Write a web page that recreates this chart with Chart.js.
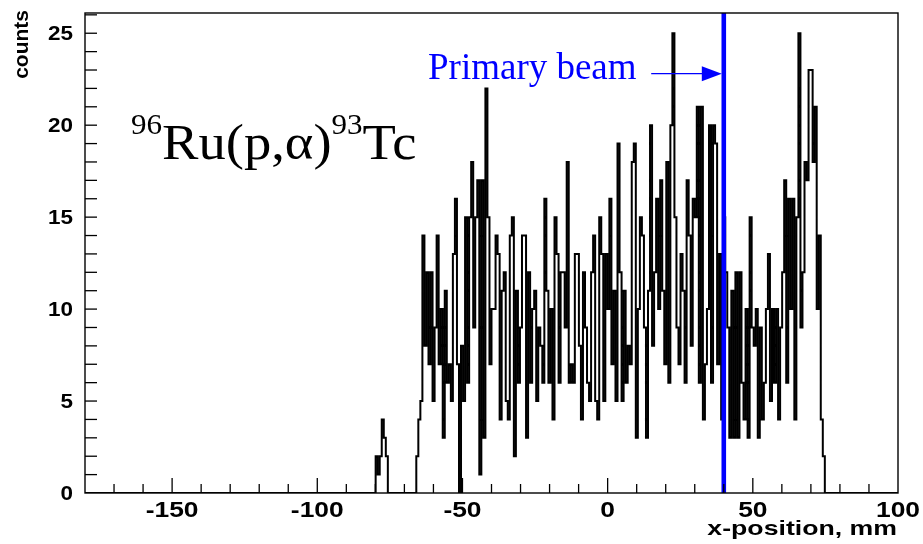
<!DOCTYPE html>
<html lang="en">
<head>
<meta charset="UTF-8" />
<title>x-position histogram</title>
<script src="https://cdn.jsdelivr.net/npm/chart.js@4.4.0/dist/chart.umd.min.js"></script>
<style>
  body { margin: 0; background: #fff; }
  #wrap { width: 923px; height: 544px; }
</style>
</head>
<body>
<div id="wrap"><canvas id="chart"></canvas></div>
<script>
// histogram binning: 400 bins of 0.7 mm over the axis range
const xMin = -180, xMax = 100;
const yMax = 26.1;
const binWidth = 0.7;
const nBins = 400;

// counts, each block starts at the given bin number
const clusterStart = 143;
const clusterCounts = [2, 1, 2, 4, 3, 2];

const leftStart = 163;
const leftCounts = [2, 4, 5, 14, 8, 12, 7, 12, 5, 9, 14, 7, 10, 3, 11, 6, 7, 5, 13, 16, 7,
  0, 8, 5, 15, 6, 15, 18, 9, 15, 17, 1, 17, 3, 22, 15, 7, 10];

const midStart = 201;
const midCounts = [10, 14, 13, 4, 11, 12, 5, 4, 14, 15, 2, 11, 6, 9, 14, 14, 3, 12, 6, 10,
  11, 5, 9, 8, 6, 16, 11, 6, 10, 4, 15, 13, 6, 12, 12, 9, 18, 6, 7, 6, 13, 13,
  8, 4, 12, 9, 6, 5, 12, 14, 5, 4, 15, 13, 5, 13, 10, 16, 7, 11, 5, 19, 12, 5, 11, 6,
  8, 7, 18, 19, 3, 10, 15, 14, 9, 3, 11, 20, 8, 12, 16, 10, 17];

const rightStart = 284;
const rightCounts = [11, 7, 18, 6, 20, 25, 15, 9, 7, 13, 11, 6, 17, 14, 8, 16, 15, 21, 6, 21,
  4, 7, 10, 20, 6, 20, 19, 7, 13, 4, 15, 12, 9, 3, 11, 3, 12, 3, 12, 6, 4,
  10, 3, 15, 9, 8, 10, 3, 9, 4, 6, 10, 13, 5, 10, 6, 10, 4, 9, 12, 17, 6, 16, 10, 16,
  4, 15, 25, 9, 12, 18, 17, 23, 23, 18, 21, 10, 14, 4, 2];

const xMajorTicks = [-150, -100, -50, 0, 50, 100];
const yMajorTicks = [0, 5, 10, 15, 20, 25];
const beamX = 40;        // primary beam position, mm
const arrowFrom = 15;    // arrow start, mm
const arrowY = 22.8;     // arrow height, counts

function histPoints() {
  const counts = new Array(nBins).fill(0);
  const put = (start, arr) => arr.forEach((c, k) => { counts[start + k] = c; });
  put(clusterStart, clusterCounts);
  put(leftStart, leftCounts);
  put(midStart, midCounts);
  put(rightStart, rightCounts);
  const pts = counts.map((c, i) => ({ x: xMin + i * binWidth, y: c }));
  pts.push({ x: xMax, y: 0 });
  return pts;
}

// text slightly wider than the font, like the original
function wideText(ctx, txt, x, y, sx) {
  ctx.save();
  ctx.translate(x, y);
  ctx.scale(sx, 1);
  ctx.fillText(txt, 0, 0);
  ctx.restore();
}

const axesPlugin = {
  id: 'rootAxes',
  afterDraw(chart) {
    const ctx = chart.ctx;
    const xs = chart.scales.x, ys = chart.scales.y;
    const a = chart.chartArea;
    ctx.save();
    ctx.strokeStyle = '#000';
    ctx.fillStyle = '#000';
    ctx.lineWidth = 1.4;
    ctx.strokeRect(a.left, a.top, a.right - a.left, a.bottom - a.top);

    // x ticks, every 10 mm, majors every 50
    ctx.lineWidth = 1.3;
    for (let v = xMin + 10; v < xMax; v += 10) {
      const px = xs.getPixelForValue(v);
      const len = xMajorTicks.includes(v) ? 15 : 9;
      ctx.beginPath();
      ctx.moveTo(px, a.bottom);
      ctx.lineTo(px, a.bottom - len);
      ctx.stroke();
    }
    // y ticks, every count
    for (let v = 1; v < yMax; v++) {
      const py = ys.getPixelForValue(v);
      ctx.beginPath();
      ctx.moveTo(a.left, py);
      ctx.lineTo(a.left + 12, py);
      ctx.stroke();
    }

    ctx.font = 'bold 22px "Liberation Sans", Arial, sans-serif';
    ctx.textAlign = 'center';
    ctx.textBaseline = 'top';
    xMajorTicks.forEach(v => wideText(ctx, String(v), xs.getPixelForValue(v), a.bottom + 7, 1.2));

    ctx.font = 'bold 21px "Liberation Sans", Arial, sans-serif';
    ctx.textAlign = 'right';
    ctx.textBaseline = 'middle';
    yMajorTicks.forEach(v => wideText(ctx, String(v), a.left - 12, ys.getPixelForValue(v) + 1, 1.07));

    // axis titles
    ctx.font = 'bold 21px "Liberation Sans", Arial, sans-serif';
    ctx.textAlign = 'right';
    ctx.textBaseline = 'alphabetic';
    wideText(ctx, 'x-position, mm', a.right - 1, 535, 1.27);

    ctx.save();
    ctx.translate(28, 10);
    ctx.rotate(-Math.PI / 2);
    ctx.font = 'bold 21px "Liberation Sans", Arial, sans-serif';
    ctx.textAlign = 'right';
    ctx.fillText('counts', 0, 0);
    ctx.restore();

    // reaction label
    ctx.save();
    ctx.translate(131, 0);
    ctx.scale(1.07, 1);
    let x = 0;
    const parts = [['96', 29, 134], ['Ru(p,\u03B1)', 51, 159], ['93', 29, 134], ['Tc', 51, 159]];
    ctx.textAlign = 'left';
    parts.forEach(([t, size, base]) => {
      ctx.font = size + 'px "Liberation Serif", "Times New Roman", serif';
      ctx.fillText(t, x, base);
      x += ctx.measureText(t).width;
    });
    ctx.restore();

    // primary beam annotation
    ctx.fillStyle = '#0000ff';
    ctx.strokeStyle = '#0000ff';
    ctx.textAlign = 'left';
    ctx.font = '37px "Liberation Serif", "Times New Roman", serif';
    ctx.fillText('Primary beam', 428, 79);
    const y0 = ys.getPixelForValue(arrowY);
    const x1 = xs.getPixelForValue(arrowFrom);
    const tip = xs.getPixelForValue(beamX) - 2;
    ctx.lineWidth = 1.2;
    ctx.beginPath();
    ctx.moveTo(x1, y0);
    ctx.lineTo(tip - 18, y0);
    ctx.stroke();
    ctx.beginPath();
    ctx.moveTo(tip, y0);
    ctx.lineTo(tip - 20, y0 - 7.5);
    ctx.lineTo(tip - 20, y0 + 7.5);
    ctx.closePath();
    ctx.fill();
    ctx.restore();
  }
};

new Chart(document.getElementById('chart'), {
  type: 'line',
  data: {
    datasets: [
      {
        data: [{ x: beamX, y: 0 }, { x: beamX, y: yMax }],
        borderColor: '#0000ff',
        borderWidth: 4.6,
        pointRadius: 0,
        order: 0
      },
      {
        data: histPoints(),
        stepped: true,
        borderColor: '#000',
        borderWidth: 2,
        pointRadius: 0,
        fill: false,
        order: 1
      }
    ]
  },
  options: {
    responsive: true,
    maintainAspectRatio: false,
    animation: false,
    devicePixelRatio: 1,
    layout: { padding: { left: 85, right: 25, top: 13, bottom: 51 } },
    plugins: { legend: { display: false }, tooltip: { enabled: false } },
    scales: {
      x: { type: 'linear', min: xMin, max: xMax, display: false },
      y: { type: 'linear', min: 0, max: yMax, display: false }
    }
  },
  plugins: [axesPlugin]
});
</script>
</body>
</html>
